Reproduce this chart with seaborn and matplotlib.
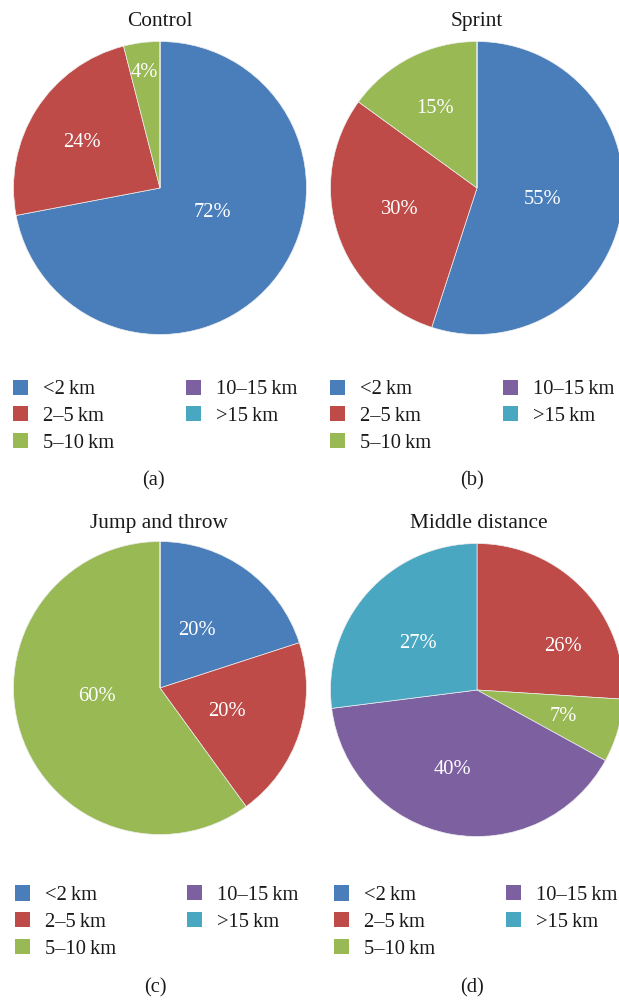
import matplotlib
matplotlib.use("Agg")
import matplotlib.pyplot as plt
from matplotlib.legend import Legend
import seaborn as sns

# ---------------- data ----------------
categories = ["<2\u2009km", "2\u20135\u2009km", "5\u201310\u2009km", "10\u201315\u2009km", ">15\u2009km"]
panel_titles = ["Control", "Sprint", "Jump and throw", "Middle distance"]
panel_tags = ["(a)", "(b)", "(c)", "(d)"]
control = [72, 24, 4, 0, 0]
sprint = [55, 30, 15, 0, 0]
jump_throw = [20, 20, 60, 0, 0]
middle_distance = [0, 26, 7, 40, 27]
series = [control, sprint, jump_throw, middle_distance]

# ---------------- style ----------------
sns.set_theme(style="white")
plt.rcParams["font.family"] = ["Liberation Serif", "DejaVu Serif"]
palette = sns.color_palette(["#4A7EBB", "#BE4B48", "#98B954", "#7D60A0", "#4AA7C2"])

W, H = 619, 1000
FS = 14.8  # points (~20 px at 100 dpi)
R = 146.5  # pie radius in px

# layout (pixel units, figure top-left origin)
centers = [(160, 188), (477, 188), (160, 688), (477, 690)]
title_y = [26, 26, 528, 528]
title_x = [160, 477, 158.5, 479]
tag_pos = [(153, 481), (472, 481), (155, 988), (472, 988)]
legend_rows = [(389.5, 416, 443), (389.5, 416, 443), (895, 922, 949), (895, 922, 949)]
legend_cols = [(13, 186), (330, 503), (15, 187), (334, 506)]
label_offsets = [
    {0: (0.36, -0.17), 1: (-0.53, 0.31), 2: (-0.106, 0.79)},
    {0: (0.45, -0.08), 1: (-0.525, -0.15), 2: (-0.285, 0.54)},
    {0: (0.25, 0.39), 1: (0.46, -0.16), 2: (-0.43, -0.06)},
    {1: (0.59, 0.30), 2: (0.59, -0.18), 3: (-0.17, -0.54), 4: (-0.40, 0.32)},
]

fig = plt.figure(figsize=(W / 100, H / 100), dpi=100)
fig.patch.set_facecolor("white")

for i, vals in enumerate(series):
    cx, cy = centers[i]
    ax = fig.add_axes([(cx - R) / W, 1 - (cy + R) / H, 2 * R / W, 2 * R / H])
    wedges, _ = ax.pie(
        vals,
        colors=palette,
        startangle=90,
        counterclock=False,
        radius=1,
        wedgeprops=dict(edgecolor="#eeeeee", linewidth=0.5),
    )
    ax.set_xlim(-1, 1)
    ax.set_ylim(-1, 1)
    ax.set_aspect("equal")
    ax.axis("off")
    # percentage labels
    for k, v in enumerate(vals):
        if v > 0 and k in label_offsets[i]:
            ox, oy = label_offsets[i][k]
            ax.text(ox, oy, f"{v}%", color="white", fontsize=FS,
                    ha="center", va="center")
    # title
    fig.text(title_x[i] / W, 1 - title_y[i] / H, panel_titles[i],
             fontsize=FS + 0.6, ha="center", va="baseline", color="#1a1a1a")
    # tag
    fig.text(tag_pos[i][0] / W, 1 - tag_pos[i][1] / H, panel_tags[i],
             fontsize=FS, ha="center", va="center", color="#1a1a1a")
    # legend: two columns (3 + 2 entries)
    rows = legend_rows[i]
    cols = legend_cols[i]
    groups = [(0, 3), (3, 5)]
    for c, (s, e) in enumerate(groups):
        n = e - s
        mid_y = (rows[0] + rows[n - 1]) / 2
        leg = Legend(
            ax, wedges[s:e], categories[s:e],
            loc="center left",
            bbox_to_anchor=(cols[c] / W, 1 - mid_y / H),
            bbox_transform=fig.transFigure,
            frameon=False, fontsize=FS,
            handlelength=0.75, handleheight=0.75,
            handletextpad=0.72, labelspacing=0.34,
            borderpad=0, borderaxespad=0,
        )
        for t in leg.get_texts():
            t.set_color("#1a1a1a")
        for h in leg.legend_handles:
            h.set_edgecolor("none")
        ax.add_artist(leg)

fig.savefig("out.png", dpi=100, facecolor="white")
